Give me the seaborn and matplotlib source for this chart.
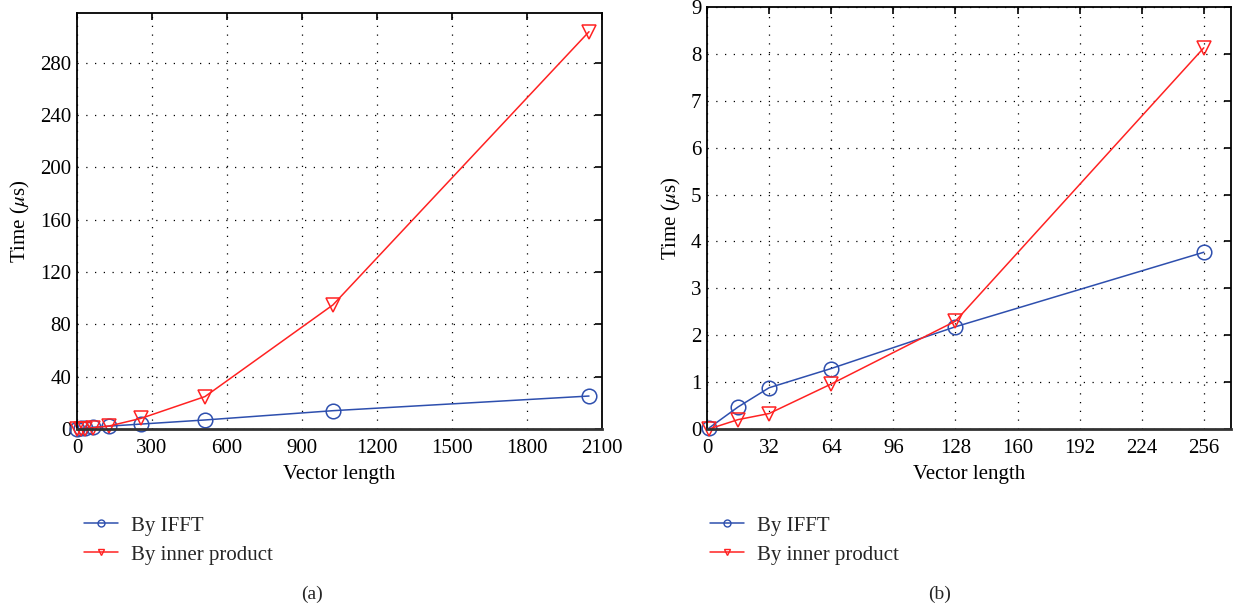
import numpy as np
import pandas as pd
import matplotlib
matplotlib.use("Agg")
import matplotlib.pyplot as plt
import seaborn as sns

# ---- data ----
len_a = [1, 16, 32, 64, 128, 256, 512, 1024, 2048]
ifft_a = [0.02, 0.47, 0.88, 1.29, 2.18, 3.77, 6.9, 14.0, 25.2]
inner_a = [0.0, 0.2, 0.33, 0.96, 2.28, 8.12, 24.8, 94.9, 303.7]

len_b = [1, 16, 32, 64, 128, 256]
ifft_b = [0.02, 0.47, 0.88, 1.29, 2.18, 3.77]
inner_b = [0.0, 0.2, 0.33, 0.96, 2.30, 8.13]

series_names = ["By IFFT", "By inner product"]
xticks_a = [0, 300, 600, 900, 1200, 1500, 1800, 2100]
yticks_a = [0, 40, 80, 120, 160, 200, 240, 280]
xticks_b = [0, 32, 64, 96, 128, 160, 192, 224, 256]
yticks_b = list(range(0, 10))

BLUE = "#2E4FAE"
RED = "#FF2222"

sns.set_theme(style="white")
plt.rcParams["font.family"] = ["Liberation Serif", "DejaVu Serif"]
plt.rcParams["mathtext.fontset"] = "stix"

fig = plt.figure(figsize=(12.37, 6.08), dpi=100)
W, H = 1237, 608

def px_axes(x0, x1, ytop, ybot):
    return fig.add_axes([x0 / W, 1 - ybot / H, (x1 - x0) / W, (ybot - ytop) / H])

ax1 = px_axes(77, 602, 13, 429)
ax2 = px_axes(707, 1231, 7, 429)

def draw(ax, lens, ifft, inner, xlim, ylim, xticks, yticks):
    df = pd.DataFrame({
        "len": lens * 2,
        "time": ifft + inner,
        "series": [series_names[0]] * len(lens) + [series_names[1]] * len(lens),
    })
    sns.lineplot(data=df, x="len", y="time", hue="series", style="series",
                 palette=[BLUE, RED], markers=["o", "v"], dashes=False,
                 markersize=10.5, markerfacecolor="none", linewidth=1.1,
                 ax=ax, legend=False, sort=False)
    for ln, c in zip(ax.lines, [BLUE, RED]):
        ln.set_markeredgecolor(c)
        ln.set_markerfacecolor("none")
        ln.set_markeredgewidth(1.1)
        ln.set_clip_on(False)
    ax.set_xlim(*xlim)
    ax.set_ylim(*ylim)
    ax.set_xticks(xticks)
    ax.set_yticks(yticks)
    ax.grid(True, color="black", linestyle=(0, (1, 6)), linewidth=0.9)
    ax.tick_params(direction="in", length=5, width=1.2, top=True, right=True,
                   labelsize=15, colors="black", pad=4)
    ax.tick_params(axis="x", pad=7)
    for s in ax.spines.values():
        s.set_color("black")
        s.set_linewidth(1.3)
    ax.spines["bottom"].set_color("#333333")
    ax.spines["bottom"].set_linewidth(2.0)
    ax.set_xlabel("Vector length", fontsize=15, color="black", labelpad=5)
    ax.set_ylabel(r"Time ($\mu$s)", fontsize=15, color="black", labelpad=6)
    ax.set_facecolor("white")
    return ax

draw(ax1, len_a, ifft_a, inner_a, (0, 2100), (0, 318), xticks_a, yticks_a)
draw(ax2, len_b, ifft_b, inner_b, (0, 270), (0, 9), xticks_b, yticks_b)

from matplotlib.lines import Line2D
def legend_at(x0, ytop):
    handles = [Line2D([], [], color=BLUE, marker="o", markersize=5, markerfacecolor="none",
                      markeredgecolor=BLUE, linewidth=1.1),
               Line2D([], [], color=RED, marker="v", markersize=5, markerfacecolor="none",
                      markeredgecolor=RED, linewidth=1.1)]
    fig.legend(handles, series_names, loc="upper left",
               bbox_to_anchor=(x0 / W, 1 - ytop / H), bbox_transform=fig.transFigure,
               frameon=False, fontsize=15, handlelength=1.65, handletextpad=0.6,
               borderpad=0, borderaxespad=0, labelspacing=0.45)

legend_at(84, 516)
legend_at(710, 516)

fig.text(312 / W, 1 - 594 / H, "(a)", ha="center", va="center", fontsize=14)
fig.text(940 / W, 1 - 594 / H, "(b)", ha="center", va="center", fontsize=14)

fig.savefig("out.png", dpi=100, facecolor="white")
